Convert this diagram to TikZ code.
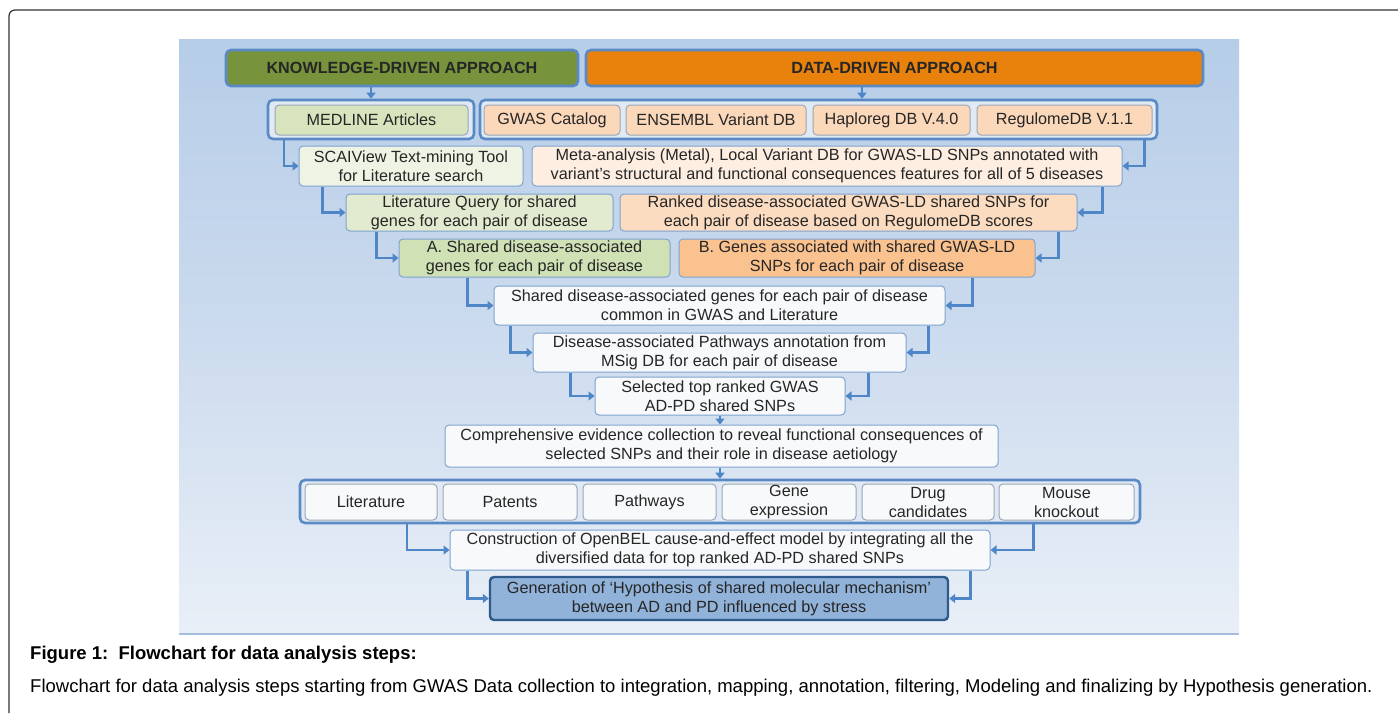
\documentclass[tikz,border=0pt]{standalone}
\usepackage{fontspec}
\setmainfont{Liberation Sans}
\usetikzlibrary{arrows.meta,calc}
\definecolor{bgtop}{HTML}{B6CDE8}
\definecolor{bgmid}{HTML}{CCDBEE}
\definecolor{bgbot}{HTML}{E9EFF7}
\definecolor{bxborder}{HTML}{7FA3CF}
\definecolor{cborder}{HTML}{5A8AC6}
\definecolor{cfill}{HTML}{E1EAF4}
\definecolor{arrc}{HTML}{4E86C7}
\definecolor{txt}{HTML}{262626}
\definecolor{hgreen}{HTML}{77933C}
\definecolor{horange}{HTML}{E8820C}
\definecolor{gmed}{HTML}{D7E4BD}
\definecolor{gscai}{HTML}{EEF3E3}
\definecolor{glit}{HTML}{E2EBD0}
\definecolor{gsa}{HTML}{D0E1B5}
\definecolor{pdb}{HTML}{FBD8BA}
\definecolor{pmeta}{HTML}{FDEEE1}
\definecolor{prank}{HTML}{FCDCC1}
\definecolor{pgb}{HTML}{FAC28F}
\definecolor{wbox}{HTML}{F8F9FB}
\definecolor{genfill}{HTML}{91B2D9}
\definecolor{genborder}{HTML}{2F5B8C}
\definecolor{grayb}{HTML}{9AA7B6}
\definecolor{framec}{HTML}{333333}
\begin{document}
\begin{tikzpicture}[x=1pt,y=-1pt,
  box/.style={draw=bxborder, line width=1pt, rounded corners=4pt, inner sep=0pt,
    align=center, text=txt, font=\fontsize{16.2}{19}\selectfont},
  inbox/.style={box, draw=grayb},
  cont/.style={draw=cborder, line width=2.6pt, rounded corners=5pt, fill=cfill, inner sep=0pt},
  hdr/.style={draw=cborder, line width=2.6pt, rounded corners=5pt, inner sep=0pt,
    text=txt, font=\fontsize{16.2}{19}\selectfont\bfseries},
  arr/.style={draw=arrc, line width=2.4pt, -{Triangle[width=9pt,length=6pt]}}
]
\useasboundingbox (0,0) rectangle (1398,713);
\fill[white] (0,0) rectangle (1398,713);
% frame
\draw[framec, line width=1.2pt, rounded corners=6pt] (9,713) -- (9,10) -- (1398,10);
% panel
\shade[top color=bgtop, bottom color=bgbot, middle color=bgmid] (179,39) rectangle (1239,634);
\draw[bxborder!70!white, line width=1.5pt] (179,634) -- (1239,634);

% headers
\node[hdr, fill=hgreen, minimum width=352pt, minimum height=36pt] (hk) at (402,68) {KNOWLEDGE-DRIVEN APPROACH};
\node[hdr, fill=horange, minimum width=617pt, minimum height=36pt] (hd) at (894.5,68) {DATA-DRIVEN APPROACH};

% row 2 containers
\node[cont, minimum width=206pt, minimum height=39pt] (lc) at (371,119.5) {};
\node[cont, minimum width=677pt, minimum height=39pt] (rc) at (818.5,119.5) {};
\node[inbox, fill=gmed, minimum width=193pt, minimum height=30pt] (med) at (371.5,120) {MEDLINE Articles};
\node[inbox, fill=pdb, minimum width=136pt, minimum height=30pt] (gwas) at (552,120) {GWAS Catalog};
\node[inbox, fill=pdb, minimum width=180pt, minimum height=30pt] (ens) at (716,120) {ENSEMBL Variant DB};
\node[inbox, fill=pdb, minimum width=157pt, minimum height=30pt] (hap) at (891.5,120) {Haploreg DB V.4.0};
\node[inbox, fill=pdb, minimum width=175pt, minimum height=30pt] (reg) at (1064.5,120) {RegulomeDB V.1.1};

% row 3
\node[box, fill=gscai, minimum width=224pt, minimum height=40pt] (scai) at (411,166) {SCAIView Text-mining Tool\\for Literature search};
\node[box, fill=pmeta, minimum width=590pt, minimum height=40pt] (meta) at (827,166) {Meta-analysis (Metal), Local Variant DB for GWAS-LD SNPs annotated with\\variant’s structural and functional consequences features for all of 5 diseases};

% row 4
\node[box, fill=glit, minimum width=267pt, minimum height=37pt] (litq) at (479.5,212.5) {Literature Query for shared\\genes for each pair of disease};
\node[box, fill=prank, minimum width=457pt, minimum height=37pt] (rank) at (848.5,212.5) {Ranked disease-associated GWAS-LD shared SNPs for\\each pair of disease based on RegulomeDB scores};

% row 5
\node[box, fill=gsa, minimum width=271pt, minimum height=38pt] (sa) at (534.5,258) {A. Shared disease-associated\\genes for each pair of disease};
\node[box, fill=pgb, minimum width=356pt, minimum height=38pt] (gb) at (857,258) {B. Genes associated with shared GWAS-LD\\SNPs for each pair of disease};

% row 6-8
\node[box, fill=wbox, minimum width=451pt, minimum height=39pt] (com) at (719.5,305.5) {Shared disease-associated genes for each pair of disease\\common in GWAS and Literature};
\node[box, fill=wbox, minimum width=373pt, minimum height=39pt] (pw) at (719.5,352.5) {Disease-associated Pathways annotation from\\MSig DB for each pair of disease};
\node[box, fill=wbox, minimum width=250pt, minimum height=38pt] (sel) at (720,396) {Selected top ranked GWAS\\AD-PD shared SNPs};
\node[box, fill=wbox, minimum width=553pt, minimum height=42pt] (comp) at (721.5,446) {Comprehensive evidence collection to reveal functional consequences of\\selected SNPs and their role in disease aetiology};

% bottom container
\node[cont, minimum width=840pt, minimum height=43pt] (bc) at (720,501.5) {};
\node[inbox, fill=wbox, minimum width=132pt, minimum height=36pt] (lit) at (371,502) {Literature};
\node[inbox, fill=wbox, minimum width=134pt, minimum height=36pt] (pat) at (510,502) {Patents};
\node[inbox, fill=wbox, minimum width=133pt, minimum height=36pt] (pwy) at (649.5,502) {Pathways};
\node[inbox, fill=wbox, minimum width=134pt, minimum height=36pt] (gex) at (789,502) {Gene\\expression};
\node[inbox, fill=wbox, minimum width=132pt, minimum height=36pt] (drug) at (928,502) {Drug\\candidates};
\node[inbox, fill=wbox, minimum width=135pt, minimum height=36pt] (mouse) at (1066.5,502) {Mouse\\knockout};

\node[box, fill=wbox, minimum width=540pt, minimum height=40pt] (cons) at (720,550) {Construction of OpenBEL cause-and-effect model by integrating all the\\diversified data for top ranked AD-PD shared SNPs};
\node[box, fill=genfill, draw=genborder, line width=2.4pt, minimum width=458pt, minimum height=43pt] (gen) at (719,598.5) {Generation of ‘Hypothesis of shared molecular mechanism’\\between AD and PD influenced by stress};

% arrows
\draw[arr] (hk.south -| lc.north) -- (lc.north);
\draw[arr] ($(hd.south)+(-32.5,0)$) -- ($(rc.north)+(43.5,0)$);
\draw[arr] ($(lc.south west)+(17,0)$) |- (scai.west);
\draw[arr] ($(rc.south east)+(-14,0)$) |- (meta.east);
\draw[arr] ($(scai.south west)+(24,0)$) |- (litq.west);
\draw[arr] ($(meta.south east)+(-20,0)$) |- (rank.east);
\draw[arr] ($(litq.south west)+(31,0)$) |- (sa.west);
\draw[arr] ($(rank.south east)+(-19,0)$) |- (gb.east);
\draw[arr] ($(sa.south west)+(69,0)$) |- (com.west);
\draw[arr] ($(gb.south east)+(-63,0)$) |- (com.east);
\draw[arr] ($(com.south west)+(17,0)$) |- (pw.west);
\draw[arr] ($(com.south east)+(-17,0)$) |- (pw.east);
\draw[arr] ($(pw.south west)+(38,0)$) |- (sel.west);
\draw[arr] ($(pw.south east)+(-38,0)$) |- (sel.east);
\draw[arr] (sel.south) -- (sel.south |- comp.north);
\draw[arr] (sel.south |- comp.south) -- (sel.south |- bc.north);
\draw[arr] ($(bc.south west)+(108,0)$) |- (cons.west);
\draw[arr] ($(bc.south east)+(-108,0)$) |- (cons.east);
\draw[arr] ($(cons.south west)+(18,0)$) |- (gen.west);
\draw[arr] ($(cons.south east)+(-20,0)$) |- (gen.east);

% caption
\node[anchor=west, inner sep=0pt, font=\fontsize{18.5}{21}\selectfont\bfseries] (cap1) at (30,655) {Figure 1:\ \ Flowchart for data analysis steps:};
\node[anchor=west, inner sep=0pt, font=\fontsize{18.5}{21}\selectfont] (cap2) at (30,688) {Flowchart for data analysis steps starting from GWAS Data collection to integration, mapping, annotation, filtering, Modeling and finalizing by Hypothesis generation.};
\end{tikzpicture}
\end{document}
